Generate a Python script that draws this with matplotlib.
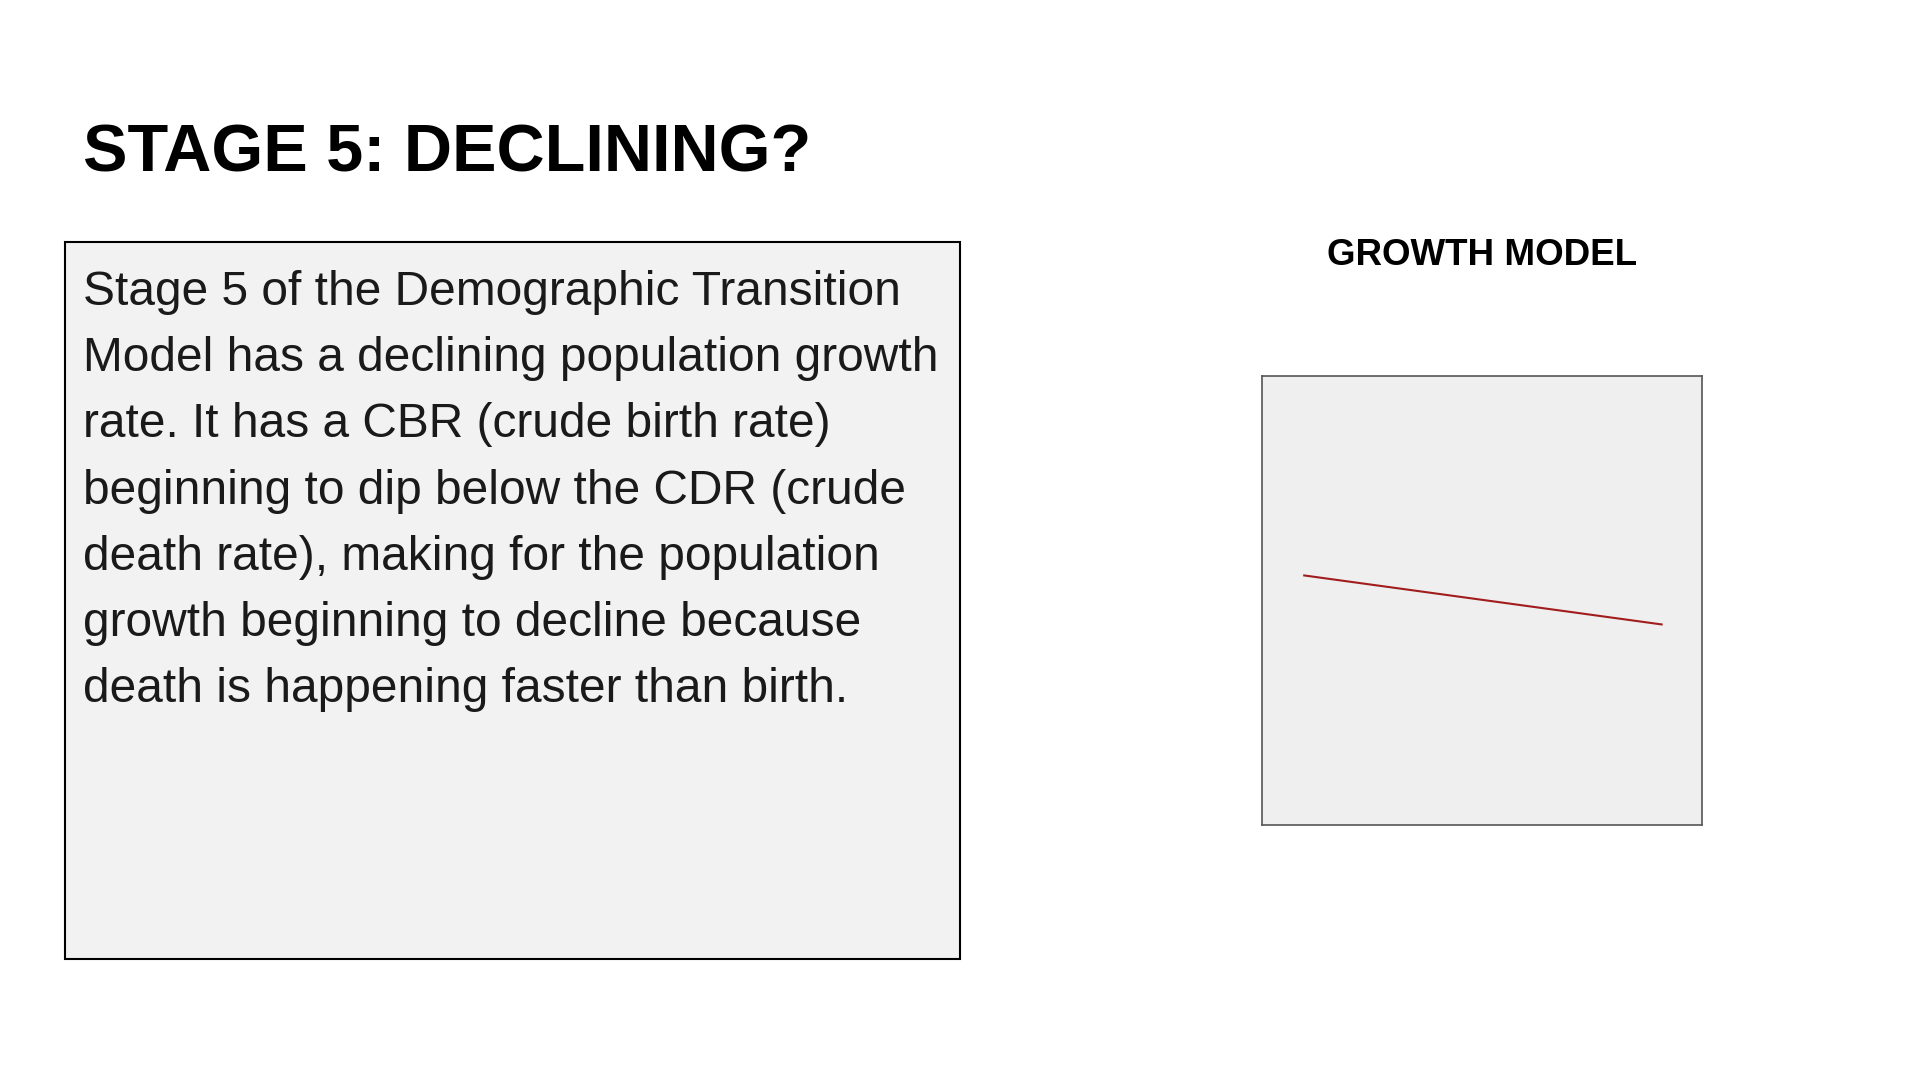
import matplotlib
matplotlib.use("Agg")
import matplotlib.pyplot as plt
from matplotlib.patches import Rectangle

plt.rcParams["font.family"] = "Liberation Sans"

title = "STAGE 5: DECLINING?"
chart_title = "GROWTH MODEL"
body_lines = [
    "Stage 5 of the Demographic Transition",
    "Model has a declining population growth",
    "rate. It has a CBR (crude birth rate)",
    "beginning to dip below the CDR (crude",
    "death rate), making for the population",
    "growth beginning to decline because",
    "death is happening faster than birth.",
]
line_x = [0.95, 9.08]
line_y = [5.56, 4.47]

W, H = 1568, 882
def fx(x): return x / W
def fy(y): return 1 - y / H

fig = plt.figure(figsize=(19.2, 10.8), dpi=100)
fig.patch.set_facecolor("white")

fig.text(fx(68), fy(126), title, fontsize=48, fontweight="bold", va="center", ha="left")

fig.patches.append(Rectangle((fx(53), fy(783)), fx(784) - fx(53), fy(198) - fy(783),
                             transform=fig.transFigure, facecolor="#f3f2f2",
                             edgecolor="black", linewidth=1.5))
for i, ln in enumerate(body_lines):
    fig.text(fx(68), fy(239 + 54 * i), ln, fontsize=34.5, va="center", ha="left", color="#1a1a1a")

fig.text(fx(1210), fy(209), chart_title, fontsize=26.5, fontweight="bold", ha="center", va="center")

ax = fig.add_axes([fx(1031), fy(674), fx(1390) - fx(1031), fy(307) - fy(674)])
ax.set_facecolor("#efefef")
ax.plot(line_x, line_y, color="#a11d1d", linewidth=1.5)
ax.set_xlim(0, 10)
ax.set_ylim(0, 10)
ax.set_xticks([])
ax.set_yticks([])
for s in ax.spines.values():
    s.set_color("#555555")
    s.set_linewidth(1.2)

fig.savefig("out.png", dpi=100)
